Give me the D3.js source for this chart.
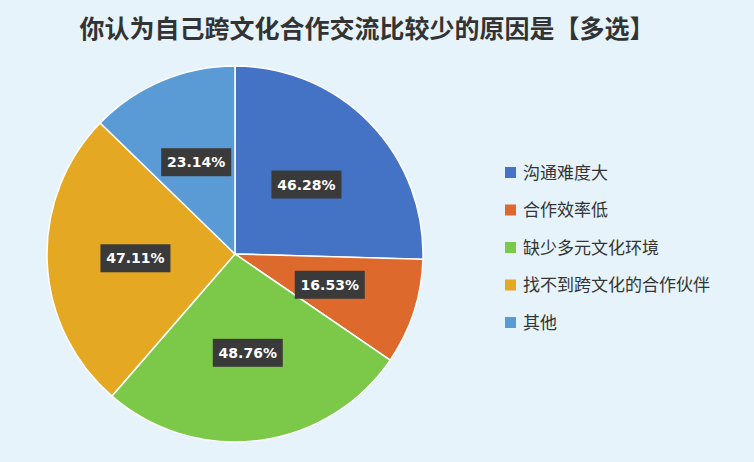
<!DOCTYPE html>
<html><head><meta charset="utf-8">
<script src="https://cdn.jsdelivr.net/npm/d3@7"></script>
<style>body{margin:0;background:#e6f3fa;}</style>
</head><body><svg id="chart" width="754" height="462"></svg>
<script>
// chart data
var categories = ["沟通难度大", "合作效率低", "缺少多元文化环境", "找不到跨文化的合作伙伴", "其他"];
var values = [46.28, 16.53, 48.76, 47.11, 23.14];
var colors = ["#4472c4", "#dd6a2c", "#7cc94a", "#e5a823", "#5b9bd5"];

var svg = d3.select("#chart");
svg.append("rect").attr("width", 754).attr("height", 462).attr("fill", "#e6f3fa");

svg.append("text").attr("x", 367).attr("y", 38).attr("text-anchor", "middle")
  .attr("font-family", "Noto Sans CJK SC").attr("font-weight", "bold")
  .attr("font-size", 25).attr("fill", "#333").text("你认为自己跨文化合作交流比较少的原因是【多选】");

var r = 188;
var g = svg.append("g").attr("transform", "translate(235,254)");
var pie = d3.pie().sort(null).value(d => d);
var arc = d3.arc().innerRadius(0).outerRadius(r);
var labelArc = d3.arc().innerRadius(r * 0.53).outerRadius(r * 0.53);
var arcs = pie(values);

g.selectAll("path").data(arcs).enter().append("path")
  .attr("d", arc).attr("fill", (d, i) => colors[i])
  .attr("stroke", "#fff").attr("stroke-width", 1.5);

var lab = g.selectAll("g.lab").data(arcs).enter().append("g")
  .attr("transform", d => "translate(" + labelArc.centroid(d) + ")");
lab.append("rect").attr("x", -35).attr("y", -14).attr("width", 70).attr("height", 28)
  .attr("fill", "#3a3a3a");
lab.append("text").attr("text-anchor", "middle").attr("dy", "0.36em")
  .attr("font-family", "DejaVu Sans").attr("font-weight", "bold").attr("font-size", 14)
  .attr("fill", "#fff").text(d => d.data.toFixed(2) + "%");

var leg = svg.selectAll("g.leg").data(categories).enter().append("g")
  .attr("transform", (d, i) => "translate(505," + (173 + i * 37.5) + ")");
leg.append("rect").attr("x", 0).attr("y", -6).attr("width", 11).attr("height", 11)
  .attr("fill", (d, i) => colors[i]);
leg.append("text").attr("x", 18).attr("dy", "0.35em")
  .attr("font-family", "Noto Sans CJK SC").attr("font-size", 17).attr("fill", "#333").text(d => d);
</script></body></html>
